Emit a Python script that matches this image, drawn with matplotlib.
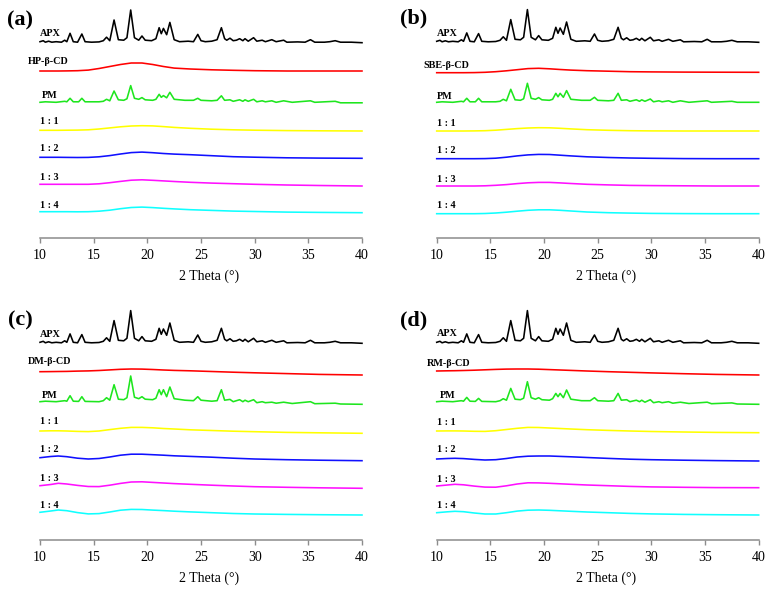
import matplotlib
matplotlib.use("Agg")
import matplotlib.pyplot as plt

# ---------------- data (intensity in a.u.) ----------------
# Crystalline aprepitant (APX) pattern, relative to its baseline
APX_2theta = [10.0, 10.3, 10.5, 10.8, 11.1, 11.5, 12.0, 12.3, 12.5, 12.8, 13.1, 13.5, 13.9, 14.2,
              14.8, 15.5, 15.9, 16.2, 16.5, 16.9, 17.3, 17.8, 18.1, 18.45, 18.8, 19.2, 19.5, 19.8,
              20.4, 20.8, 21.1, 21.3, 21.5, 21.8, 22.1, 22.5, 23.0, 23.8, 24.3, 24.7, 25.0, 25.4,
              26.0, 26.5, 26.9, 27.2, 27.4, 27.7, 28.0, 28.3, 28.6, 28.9, 29.1, 29.4, 29.9, 30.2,
              30.7, 31.0, 31.6, 32.0, 32.7, 33.0, 34.0, 34.7, 35.2, 35.6, 36.5, 37.0, 37.5, 38.0,
              39.0, 40.0]
APX_int = [1, 2, 0.5, 1.5, 0.5, 1, 0.5, 2.5, 1, 9.4, 1, 0.5, 8.7, 1,
           0.5, 0.8, 2, 5.5, 2, 22.7, 3, 2.5, 5, 32.7, 5, 2.5, 6.7, 2.5,
           2, 4, 15, 9, 14.3, 8, 20.3, 3, 1, 1.5, 1, 8.3, 2, 1,
           1.5, 3, 15, 4, 2.5, 4.5, 2, 2.5, 4, 2, 4, 1.5, 5, 1.5,
           2.5, 1, 3, 1, 2.5, 0.5, 0.8, 0.5, 3, 0.5, 0.5, 1, 2, 0.5,
           0.5, 0]

# Physical mixtures (PM), relative to their baseline
PM_2theta = [10.0, 10.5, 11.5, 12.3, 12.5, 12.8, 13.1, 13.6, 13.9, 14.2, 15.5, 15.9, 16.2, 16.5,
             16.9, 17.3, 17.8, 18.1, 18.45, 18.8, 19.2, 19.5, 19.8, 20.5, 20.8, 21.1, 21.3, 21.5,
             21.8, 22.1, 22.5, 23.5, 24.3, 24.7, 25.0, 26.0, 26.5, 26.9, 27.2, 27.7, 28.0, 28.6,
             28.9, 29.1, 29.4, 29.9, 30.2, 30.7, 31.0, 31.6, 32.0, 32.7, 33.5, 35.2, 35.6, 37.5,
             38.0, 40.0]
PM_a = [0, 0.5, 0, 1, 0.5, 4, 0.5, 0.5, 4, 0.5, 0.5, 1, 3, 1.5,
        11.3, 2.5, 2, 3.5, 16.7, 4, 3, 4.7, 2.5, 2, 3, 8, 5, 6.7,
        4.5, 10, 3, 2, 2, 4, 2, 1.5, 2, 6.5, 2, 2.5, 1, 2.5,
        1, 2.5, 1, 3, 0.5, 1.5, 0.5, 1.5, 0, 1.5, 0, 1.5, 0, 1,
        -0.5, -0.5]
PM_b = [0, 0.5, 0, 1, 0.5, 4, 0.5, 0.5, 4, 0.5, 0.5, 1, 3, 1.5,
        13, 2.5, 2, 3.5, 19, 4, 3, 4.7, 2.5, 2, 3, 9, 5.5, 9,
        5, 11.7, 3, 2, 2, 5, 2, 1.5, 2, 9, 2, 2.5, 1, 2.5,
        1, 2.5, 1, 3.3, 0.5, 1.5, 0.5, 1.5, 0, 1.5, 0, 1.5, 0, 1,
        0, 0]
PM_c = [0, 0.5, 0, 1, 0.5, 6, 0.5, 0.3, 5, 0.3, 0, 1, 4, 1.5,
        17, 2.5, 2, 4, 25.7, 4.5, 3, 5, 2.5, 2, 3.5, 12, 7, 12,
        5, 14.7, 3, 1.5, 1, 5, 1.5, 0.5, 1, 12, 1.5, 2.3, 0, 2,
        0, 1.5, 0, 2, -1, 0, -1, -0.5, -1.5, -0.5, -1.8, 0, -2, -1.5,
        -2.3, -2.6]
PM_d = [0, 0.5, 0, 1, 0.5, 4.3, 0.5, 0.3, 3.3, 0.3, 0, 1, 3, 1.5,
        13.3, 2.5, 2, 3.5, 20, 4, 2.5, 4, 2, 1.5, 3, 8.3, 5, 8.3,
        4, 11.7, 2.5, 1, 1, 4, 1, 0.5, 1, 8.3, 1.5, 2, 0, 1.5,
        0, 1.5, -0.5, 2, -1, 0, -1, 0, -1.5, -0.5, -1.8, -0.5, -2, -1.2,
        -2.3, -2.6]

# Amorphous patterns (cyclodextrins and inclusion complexes), stacked intensity
HUMP_2theta = [10, 11, 11.7, 12.5, 13.5, 14.5, 15.5, 16.5, 17.5, 18.5, 19.5, 20.5, 21.5, 22.5,
               24, 26, 28, 30, 33, 36, 40]
# panel (a): HP-beta-CD
a_cd = [166.7, 166.7, 166.7, 166.8, 167, 167.6, 169.2, 171.2, 173.2, 174.7, 174.7, 173.2, 171.2, 169.6,
        168.7, 167.9, 167.4, 167, 166.7, 166.7, 166.7]
a_11 = [107.4, 107.4, 107.4, 107.5, 107.6, 107.9, 108.7, 109.8, 110.9, 111.7, 112, 111.8, 111.1, 110.3,
        109.4, 108.5, 107.9, 107.5, 107.1, 106.9, 106.7]
a_12 = [80.4, 80.4, 80.4, 80.3, 80.2, 80.3, 80.9, 82.1, 83.7, 85.1, 85.6, 85, 84.2, 83.6,
        83, 82, 81, 80.5, 79.9, 79.6, 79.4]
a_13 = [53.4, 53.4, 53.4, 53.4, 53.4, 53.4, 53.9, 55, 56.3, 57.5, 57.9, 57.4, 56.8, 56.2,
        55.4, 54.6, 54, 53.4, 52.7, 52.2, 51.7]
a_14 = [26, 26, 26, 26, 25.9, 26, 26.5, 27.5, 29, 30.2, 30.6, 30.1, 29.4, 28.8,
        28, 27.3, 26.6, 26.2, 25.6, 25.3, 25]
# panel (b): SBE-beta-CD
b_cd = [165, 165, 165, 165, 165.1, 165.4, 166, 166.9, 168, 169.1, 169.4, 168.9, 168.2, 167.6,
        167, 166.5, 166, 165.8, 165.6, 165.5, 165.4]
b_11 = [106.7, 106.7, 106.7, 106.7, 106.8, 107, 107.5, 108.3, 109.1, 109.7, 110, 109.9, 109.4, 108.8,
        108, 107.4, 107, 106.8, 106.7, 106.7, 106.7]
b_12 = [79, 79, 79, 79, 79, 79.1, 79.5, 80.5, 81.8, 82.8, 83.3, 83.2, 82.5, 81.8,
        80.9, 80.2, 79.7, 79.4, 79.1, 79, 79]
b_13 = [51.7, 51.7, 51.7, 51.7, 51.7, 51.9, 52.4, 53.1, 54.1, 54.9, 55.3, 55.3, 54.8, 54.2,
        53.4, 52.8, 52.3, 52.1, 51.9, 51.7, 51.7]
b_14 = [24, 24, 24, 24, 24, 24.2, 24.7, 25.5, 26.5, 27.4, 27.9, 27.9, 27.4, 26.7,
        25.7, 25, 24.6, 24.3, 24.1, 24, 24]
# panel (c): DM-beta-CD
c_cd = [168.3, 168.4, 168.5, 168.6, 168.9, 169.1, 169.5, 170.1, 170.7, 171, 170.9, 170.5, 170, 169.6,
        169.2, 168.5, 167.8, 167.2, 166.4, 165.6, 165]
c_11 = [109, 109.2, 109.2, 109, 108.6, 108.4, 109, 110.4, 111.7, 112.6, 112.6, 112.2, 111.5, 111,
        110.2, 109.5, 108.8, 108.3, 107.6, 107.2, 106.7]
c_12 = [82.3, 83.5, 84, 83.3, 81.8, 81, 81.5, 83, 84.8, 85.8, 85.8, 85.3, 84.8, 84.2,
        83.6, 82.8, 81.8, 81, 80.3, 79.8, 79.3]
c_13 = [54.3, 55.5, 56.7, 56, 54.6, 53.5, 53.4, 54.8, 56.6, 58, 58.2, 57.6, 57, 56.4,
        55.7, 54.8, 54, 53.3, 52.7, 52.2, 51.7]
c_14 = [27.7, 29, 30, 29.3, 27.4, 26.1, 26.4, 28, 29.8, 30.6, 30.5, 29.9, 29.4, 28.8,
        28.1, 27.3, 26.5, 26, 25.6, 25.3, 25]
# panel (d): RM-beta-CD
d_cd = [169, 169.2, 169.3, 169.5, 169.8, 170.2, 170.6, 170.9, 171, 171, 170.8, 170.4, 170, 169.6,
        169, 168.3, 167.7, 167.1, 166.3, 165.6, 165]
d_11 = [109, 109.1, 109.1, 109, 108.7, 108.6, 109.3, 110.5, 111.7, 112.6, 112.5, 112, 111.5, 111,
        110.3, 109.6, 109, 108.5, 108, 107.6, 107.3]
d_12 = [81, 81.5, 81.7, 81.4, 80.6, 80, 80.3, 81.5, 83, 83.8, 84, 84, 83.6, 83.2,
        82.5, 81.6, 80.8, 80.3, 79.8, 79.4, 79]
d_13 = [54, 55, 55.7, 55.2, 53.9, 52.9, 52.8, 54.2, 56, 57.2, 57.1, 56.7, 56.2, 55.7,
        55, 54.3, 53.6, 53.1, 52.7, 52.4, 52.3]
d_14 = [27.3, 28.2, 28.7, 28.3, 27, 26, 26, 27.3, 28.9, 29.8, 30, 29.7, 29.2, 28.7,
        28, 27.3, 26.6, 26.1, 25.6, 25.3, 25]

tick_values = [10, 15, 20, 25, 30, 35, 40]
tick_labels = ["10", "15", "20", "25", "30", "35", "40"]
ratio_labels = ["1 : 1", "1 : 2", "1 : 3", "1 : 4"]
x_label = "2 Theta (°)"

# ---------------- styling / layout ----------------
W, H = 773, 592
SERIF = ["Liberation Serif", "DejaVu Serif"]
COL_APX = "#000000"
COL_CD = "#ff0000"
COL_PM = "#1ee61e"
COL_R = ["#ffff00", "#1010ff", "#ff10ff", "#10ffff"]
LW = 1.15

panels = [
    dict(tag="(a)", tag_xy=(20, 20), left=40, axis_y=237.7, cd_name="HP-β-CD",
         apx_off=195.0, pm_off=135.4, pm=PM_a, cd=a_cd, ratios=[a_11, a_12, a_13, a_14],
         lab_apx=(10.0, 204.4), lab_cd=(8.88, 176), lab_pm=(10.19, 142),
         lab_r=[116, 89.4, 60, 32]),
    dict(tag="(b)", tag_xy=(414, 18), left=436.7, axis_y=237.7, cd_name="SBE-β-CD",
         apx_off=195.4, pm_off=135.4, pm=PM_b, cd=b_cd, ratios=[b_11, b_12, b_13, b_14],
         lab_apx=(10.0, 204.4), lab_cd=(8.75, 172.7), lab_pm=(10.05, 141),
         lab_r=[113.7, 87, 58.7, 31.7]),
    dict(tag="(c)", tag_xy=(20, 320), left=40, axis_y=540, cd_name="DM-β-CD",
         apx_off=196.7, pm_off=138.3, pm=PM_c, cd=c_cd, ratios=[c_11, c_12, c_13, c_14],
         lab_apx=(10.0, 205.7), lab_cd=(8.9, 178.3), lab_pm=(10.15, 145),
         lab_r=[118.3, 90, 61.7, 35]),
    dict(tag="(d)", tag_xy=(414, 320), left=436.7, axis_y=540, cd_name="RM-β-CD",
         apx_off=196.7, pm_off=138.3, pm=PM_d, cd=d_cd, ratios=[d_11, d_12, d_13, d_14],
         lab_apx=(10.0, 206.7), lab_cd=(9.07, 176.7), lab_pm=(10.25, 145),
         lab_r=[117.3, 90, 61, 34]),
]

fig = plt.figure(figsize=(W / 100, H / 100), dpi=100)
AX_W = 322
AX_H = 232

lab_kw = dict(fontfamily=SERIF, fontsize=7.3, fontweight="bold", ha="left", va="center",
              clip_on=False, color="black")

for p in panels:
    ax = fig.add_axes([p["left"] / W, 1 - p["axis_y"] / H, AX_W / W, AX_H / H])
    ax.set_xlim(10, 40)
    ax.set_ylim(0, AX_H)
    for s in ("top", "right", "left"):
        ax.spines[s].set_visible(False)
    ax.spines["bottom"].set_color("#8c8c8c")
    ax.spines["bottom"].set_linewidth(1.1)
    ax.set_yticks([])
    ax.set_xticks(tick_values)
    ax.set_xticklabels(tick_labels, fontfamily=SERIF, fontsize=10)
    ax.tick_params(axis="x", direction="out", length=3.5, width=1.0, color="#8c8c8c", pad=4.5)
    ax.set_xlabel(x_label, fontfamily=SERIF, fontsize=10)
    ax.xaxis.set_label_coords(0.525, -0.135)

    ax.plot(APX_2theta, [v + p["apx_off"] for v in APX_int], color=COL_APX, lw=LW, clip_on=False)
    ax.plot(HUMP_2theta, p["cd"], color=COL_CD, lw=LW, clip_on=False)
    ax.plot(PM_2theta, [v + p["pm_off"] for v in p["pm"]], color=COL_PM, lw=LW, clip_on=False)
    for vals, col in zip(p["ratios"], COL_R):
        ax.plot(HUMP_2theta, vals, color=col, lw=LW, clip_on=False)

    ax.text(p["lab_apx"][0], p["lab_apx"][1], "APX", **lab_kw)
    ax.text(p["lab_cd"][0], p["lab_cd"][1], p["cd_name"], **lab_kw)
    ax.text(p["lab_pm"][0], p["lab_pm"][1], "PM", **lab_kw)
    for lbl, yy in zip(ratio_labels, p["lab_r"]):
        ax.text(10.0, yy, lbl, **lab_kw)

    fig.text(p["tag_xy"][0] / W, 1 - p["tag_xy"][1] / H, p["tag"], fontfamily=SERIF,
             fontsize=16, fontweight="bold", ha="center", va="center")

fig.savefig("out.png", dpi=100)
